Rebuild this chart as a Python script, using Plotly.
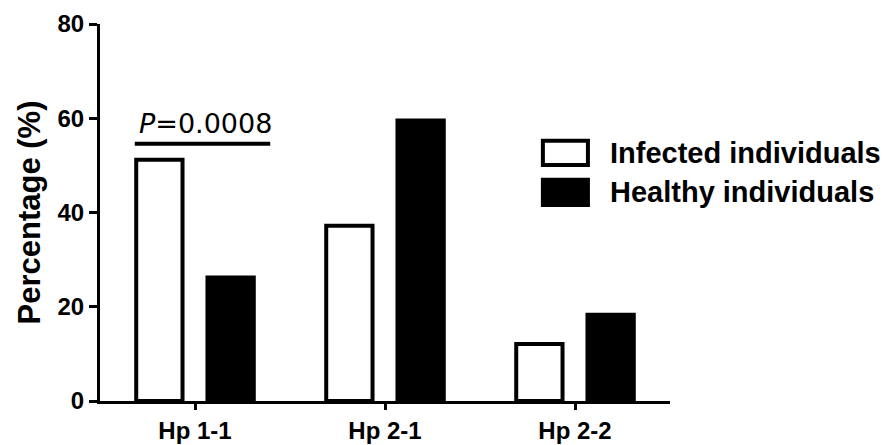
import plotly.graph_objects as go

categories = ["Hp 1-1", "Hp 2-1", "Hp 2-2"]
infected = [51.2, 37.2, 12.1]
healthy = [26.2, 59.5, 18.3]
series_names = ["Infected individuals", "Healthy individuals"]
y_ticks = [0, 20, 40, 60, 80]
sig_category = "Hp 1-1"
sig_level = 54.6
sig_text = "0.0008"

FONT = "Liberation Sans, Arial, sans-serif"

fig = go.Figure()
fig.add_trace(go.Bar(
    x=categories, y=infected, name=series_names[0],
    marker=dict(color="white", line=dict(color="black", width=4)),
    showlegend=False,
))
fig.add_trace(go.Bar(
    x=categories, y=healthy, name=series_names[1],
    marker=dict(color="black", line=dict(color="black", width=4)),
    showlegend=False,
))

# significance bracket
ci = categories.index(sig_category)
fig.add_shape(type="line", xref="x", yref="y",
              x0=ci - 0.317, x1=ci + 0.396, y0=sig_level, y1=sig_level,
              line=dict(color="black", width=4))
fig.add_annotation(x=ci + 0.053, y=sig_level, xref="x", yref="y",
                   text="<i>P</i>=" + sig_text, showarrow=False,
                   yanchor="bottom", yshift=3,
                   font=dict(family="DejaVu Sans", size=27, color="black"))

# custom legend
legend_rows = [(0.690, 0.626, "white"), (0.587, 0.520, "black")]
for (ytop, ybot, fill), name in zip(legend_rows, series_names):
    fig.add_shape(type="rect", xref="paper", yref="paper",
                  x0=0.777, x1=0.856, y0=ybot, y1=ytop,
                  fillcolor=fill, line=dict(color="black", width=4))
    fig.add_annotation(x=0.891, y=(ytop + ybot) / 2, xref="paper", yref="paper",
                       text="<b>" + name + "</b>", showarrow=False,
                       xanchor="left", yanchor="middle",
                       font=dict(family=FONT, size=29, color="black"))

fig.update_layout(
    template="none",
    width=892, height=445,
    margin=dict(l=100, r=222, t=24, b=44, autoexpand=False),
    paper_bgcolor="white", plot_bgcolor="white",
    barmode="group", bargap=0.25, bargroupgap=0.35,
    font=dict(family=FONT, color="black"),
)
fig.update_xaxes(
    range=[-0.5, 2.5], showline=True, linecolor="black", linewidth=3,
    ticks="outside", ticklen=6, tickwidth=3, tickcolor="black",
    tickvals=list(range(len(categories))), ticktext=["<b>" + c + "</b>" for c in categories],
    tickfont=dict(family=FONT, size=24, color="black"),
    showgrid=False, zeroline=False, automargin=False,
)
fig.update_yaxes(
    range=[0, 80], showline=True, linecolor="black", linewidth=3,
    ticks="outside", ticklen=8, tickwidth=3, tickcolor="black",
    tickvals=y_ticks, ticktext=["<b>%d</b>" % v for v in y_ticks],
    tickfont=dict(family=FONT, size=24, color="black"),
    title=dict(text="<b>Percentage (%)</b>", font=dict(family=FONT, size=31, color="black"), standoff=8),
    showgrid=False, zeroline=False, automargin=False,
)

fig.write_html("out.html", config={"displayModeBar": False},
               post_script="document.body.style.margin='0';document.body.style.overflow='hidden';")
